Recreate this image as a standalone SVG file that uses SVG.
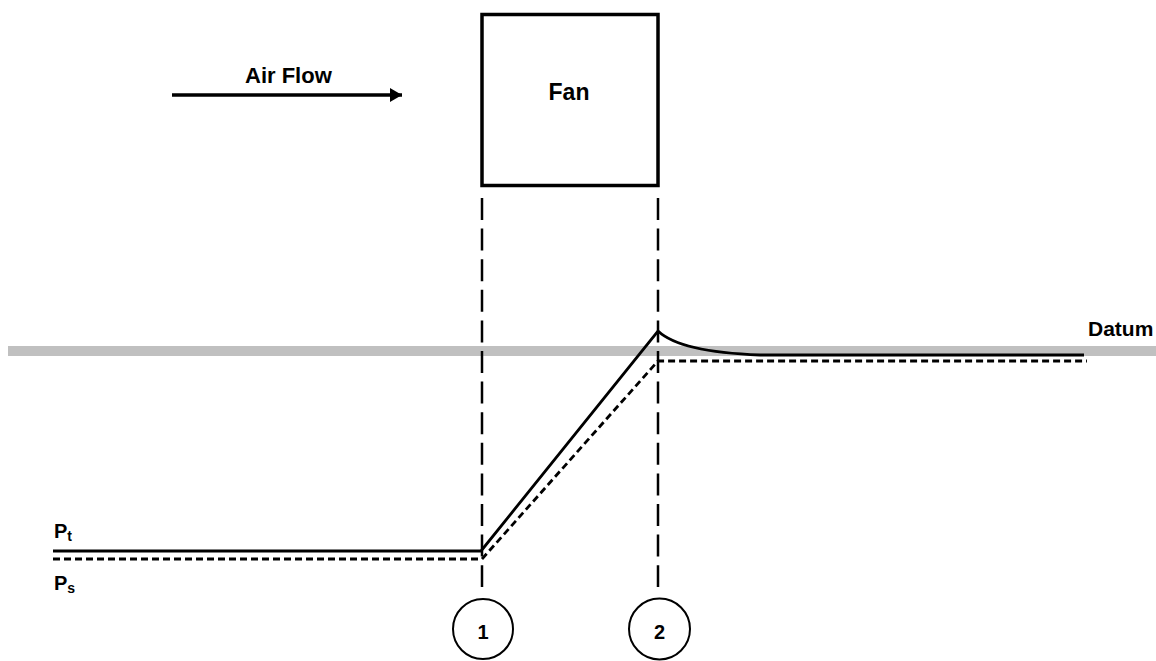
<svg xmlns="http://www.w3.org/2000/svg" width="1156" height="661" viewBox="0 0 1156 661">
<defs>
<marker id="ah" viewBox="0 0 12 14" refX="12" refY="7" markerWidth="12" markerHeight="14" markerUnits="userSpaceOnUse" orient="auto">
<path d="M0,0 L12,7 L0,14 Z" fill="#000"/>
</marker>
</defs>
<style>
.lbl{font-family:"Liberation Sans",Arial,sans-serif;font-weight:bold;fill:#000}
.guide{stroke:#000;stroke-width:2.5;stroke-dasharray:22 8.6;fill:none}
.pt{stroke:#000;stroke-width:2.8;fill:none}
.ps{stroke:#000;stroke-width:2.8;stroke-dasharray:7 4;fill:none}
.circ{fill:#fff;stroke:#000;stroke-width:2}
</style>
<rect width="1156" height="661" fill="#fff"/>
<g id="datum">
<line x1="8" y1="351" x2="1156" y2="351" stroke="#c0c0c0" stroke-width="10"/>
<text class="lbl" x="1088" y="336" font-size="21">Datum</text>
</g>
<g id="fan">
<rect x="482" y="14.5" width="176" height="171" fill="#fff" stroke="#000" stroke-width="3.5"/>
<text class="lbl" x="569" y="100" font-size="23" text-anchor="middle">Fan</text>
</g>
<g id="airflow">
<line x1="172" y1="95" x2="402" y2="95" stroke="#000" stroke-width="3.3" marker-end="url(#ah)"/>
<text class="lbl" x="245" y="83" font-size="22">Air Flow</text>
</g>
<g id="connectors">
<line class="guide" x1="482" y1="198" x2="482" y2="587"/>
<line class="guide" x1="658" y1="198" x2="658" y2="587"/>
<path class="pt" d="M53,551 L481,551 L658,331 Q680,352 760,355 L1084,355"/>
<path class="ps" d="M53,559 L482,559 L658,361 L1087,361"/>
</g>
<g id="labels">
<text class="lbl" x="54" y="538" font-size="20">P<tspan font-size="14" dy="3">t</tspan></text>
<text class="lbl" x="54" y="590" font-size="20">P<tspan font-size="14" dy="3">s</tspan></text>
</g>
<g id="station1">
<circle class="circ" cx="483" cy="629" r="30"/>
<text class="lbl" x="483" y="639" font-size="20" text-anchor="middle">1</text>
</g>
<g id="station2">
<circle class="circ" cx="659.5" cy="629" r="30.5"/>
<text class="lbl" x="659.5" y="639" font-size="20" text-anchor="middle">2</text>
</g>
</svg>
